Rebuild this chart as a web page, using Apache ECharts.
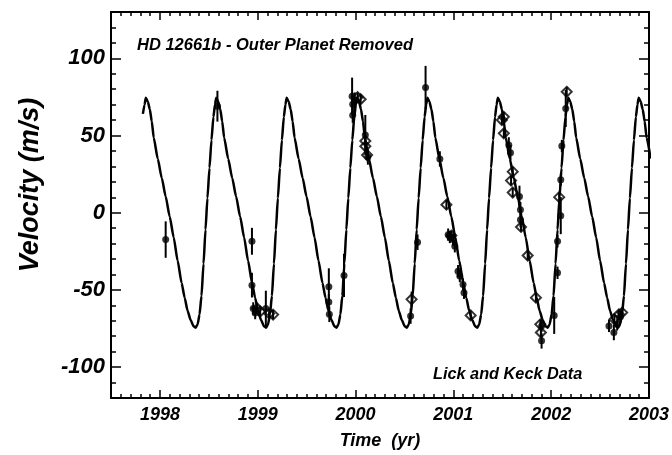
<!DOCTYPE html>
<html><head><meta charset="utf-8">
<script src="https://cdn.jsdelivr.net/npm/echarts@6/dist/echarts.min.js"></script>
<style>html,body{margin:0;padding:0;background:#fff}#c{width:672px;height:455px}</style>
</head><body><div id="c"></div>
<script>
// Model curve (cycle by cycle)
const curveTime = [
 1997.826,1997.843,
 1997.856,1997.876,1997.897,1997.917,1997.937,1997.978,1998.019,1998.059,1998.100,1998.141,1998.181,1998.222,1998.253,1998.283,1998.314,1998.344,1998.364,1998.385,1998.405,1998.425,1998.446,1998.466,1998.486,1998.507,1998.527,1998.547,1998.563,
 1998.576,1998.596,1998.617,1998.637,1998.657,1998.698,1998.739,1998.779,1998.820,1998.861,1998.901,1998.942,1998.973,1999.003,1999.034,1999.064,1999.084,1999.105,1999.125,1999.145,1999.166,1999.186,1999.206,1999.227,1999.247,1999.267,1999.283,
 1999.296,1999.316,1999.337,1999.357,1999.377,1999.418,1999.459,1999.499,1999.540,1999.581,1999.621,1999.662,1999.693,1999.723,1999.754,1999.784,1999.804,1999.825,1999.845,1999.865,1999.886,1999.906,1999.926,1999.947,1999.967,1999.987,2000.003,
 2000.015,2000.035,2000.056,2000.076,2000.096,2000.137,2000.178,2000.218,2000.259,2000.300,2000.340,2000.381,2000.412,2000.442,2000.473,2000.503,2000.523,2000.544,2000.564,2000.584,2000.605,2000.625,2000.645,2000.666,2000.686,2000.706,2000.722,
 2000.735,2000.755,2000.776,2000.796,2000.816,2000.857,2000.898,2000.938,2000.979,2001.020,2001.060,2001.101,2001.132,2001.162,2001.193,2001.223,2001.243,2001.264,2001.284,2001.304,2001.325,2001.345,2001.365,2001.386,2001.406,2001.426,2001.442,
 2001.455,2001.475,2001.496,2001.516,2001.536,2001.577,2001.618,2001.658,2001.699,2001.740,2001.780,2001.821,2001.852,2001.882,2001.913,2001.943,2001.963,2001.984,2002.004,2002.024,2002.045,2002.065,2002.085,2002.106,2002.126,2002.146,2002.162,
 2002.175,2002.195,2002.216,2002.236,2002.256,2002.297,2002.338,2002.378,2002.419,2002.460,2002.500,2002.541,2002.572,2002.602,2002.633,2002.663,2002.683,2002.704,2002.724,2002.744,2002.765,2002.785,2002.805,2002.826,2002.846,2002.866,2002.882,
 2002.895,2002.915,2002.936,2002.956,2002.976,2003.017
];
const curveVel = [
 64,70,
 74.5,72,67,59,48.5,35,22.5,10.5,-2.5,-16,-31,-45.5,-55,-63.5,-69.5,-73.5,-74.5,-72.5,-66,-54,-33,-11,9.5,29,47,62,70,
 74.5,72,67,59,48.5,35,22.5,10.5,-2.5,-16,-31,-45.5,-55,-63.5,-69.5,-73.5,-74.5,-72.5,-66,-54,-33,-11,9.5,29,47,62,70,
 74.5,72,67,59,48.5,35,22.5,10.5,-2.5,-16,-31,-45.5,-55,-63.5,-69.5,-73.5,-74.5,-72.5,-66,-54,-33,-11,9.5,29,47,62,70,
 74.5,72,67,59,48.5,35,22.5,10.5,-2.5,-16,-31,-45.5,-55,-63.5,-69.5,-73.5,-74.5,-72.5,-66,-54,-33,-11,9.5,29,47,62,70,
 74.5,72,67,59,48.5,35,22.5,10.5,-2.5,-16,-31,-45.5,-55,-63.5,-69.5,-73.5,-74.5,-72.5,-66,-54,-33,-11,9.5,29,47,62,70,
 74.5,72,67,59,48.5,35,22.5,10.5,-2.5,-16,-31,-45.5,-55,-63.5,-69.5,-73.5,-74.5,-72.5,-66,-54,-33,-11,9.5,29,47,62,70,
 74.5,72,67,59,48.5,35,22.5,10.5,-2.5,-16,-31,-45.5,-55,-63.5,-69.5,-73.5,-74.5,-72.5,-66,-54,-33,-11,9.5,29,47,62,70,
 74.5,72,67,59,48.5,35
];

// Lick data (filled circles)
const lickTime = [1998.059,1998.588,1998.941,1998.941,1998.954,1998.974,1999.083,1999.727,1999.727,1999.732,1999.882,1999.965,1999.971,1999.971,1999.991,2000.100,2000.126,2000.563,2000.634,2000.716,2000.862,2000.947,2000.964,2000.997,2001.015,2001.048,2001.066,2001.099,2001.109,2001.567,2001.584,2001.676,2001.686,2001.686,2001.902,2001.902,2002.031,2002.065,2002.065,2002.098,2002.098,2002.109,2002.149,2002.591,2002.641,2002.675,2002.708];
const lickVel = [-17.4,69,-18.5,-46.9,-62,-65,-62,-48,-57.9,-65.8,-40.6,75.5,70.3,63.2,72.9,50.3,36.1,-66.9,-19.1,81.1,34.8,-14.2,-15.7,-17.4,-21.7,-37.9,-41,-46.5,-51.8,43.9,38.9,10.5,1.9,-4.5,-73.3,-83,-66.5,-38.9,-18.5,21.3,-1.9,43.2,67.5,-73.3,-77.6,-72.3,-67.3];
const lickErr = [11.8,10,8.7,8,4,4,11.5,12,5,5,14,12,5,5,5,13,5,5,5,14,5,4,4,4,4,4,4,4,4,5,5,7,5,5,4,5,12,4,4,4,12,4,12,4,5,4,4];

// Keck data (open diamonds)
const keckTime = [1998.995,1999.025,1999.117,1999.157,2000.021,2000.052,2000.100,2000.100,2000.118,2000.573,2000.929,2000.980,2001.177,2001.496,2001.516,2001.516,2001.607,2001.590,2001.607,2001.692,2001.760,2001.844,2001.889,2001.895,2002.082,2002.159,2002.647,2002.692,2002.726];
const keckVel = [-62,-64,-65.2,-66,74.8,73.5,46.5,43,37.4,-56.1,5.2,-14.8,-66.5,60,62.1,51.4,26.6,20.8,13.1,-9.2,-27.7,-55,-72.3,-77.6,10.1,78.3,-69,-65.8,-64.7];
const keckErr = [3,3,3,3,3,3,3,3,3,5,3,3,3,3,3,3,3,3,3,3,3,3,3,3,3,3,3,3,3];

const yearTicks = [1998,1999,2000,2001,2002,2003];
const velTicks = [-100,-50,0,50,100];

const FONT = '"Liberation Sans", Arial, sans-serif';
const chart = echarts.init(document.getElementById('c'), null, {renderer:'canvas'});

const curve = curveTime.map((t,i)=>[t,curveVel[i]]);
const lick = lickTime.map((t,i)=>[t,lickVel[i],lickErr[i]]);
const keck = keckTime.map((t,i)=>[t,keckVel[i],keckErr[i]]);

function errBar(params, api){
  const x = api.value(0), v = api.value(1), e = api.value(2);
  const a = api.coord([x, v+e]), b = api.coord([x, v-e]);
  return {type:'line', shape:{x1:a[0],y1:a[1],x2:b[0],y2:b[1]}, style:{stroke:'#000', lineWidth:2}};
}

const XMIN=1997.5, XMAX=2003, YMIN=-120, YMAX=130;
const tickStyle = {color:'#000', width:1.5};
const lineOn = {onZero:false, lineStyle:{color:'#000', width:2}};
const lineOff = {show:false, onZero:false};
chart.setOption({
  animation:false,
  backgroundColor:'#fff',
  grid:{left:111, right:20, top:12, bottom:57, containLabel:false},
  xAxis:[
    {type:'value', position:'bottom', min:XMIN, max:XMAX, interval:0.1,
     axisLine:lineOn, axisTick:{inside:true, length:4, lineStyle:tickStyle},
     axisLabel:{show:false}, splitLine:{show:false}},
    {type:'value', position:'bottom', min:XMIN, max:XMAX,
     axisLine:lineOff,
     axisTick:{inside:true, length:8, customValues:yearTicks, lineStyle:tickStyle},
     axisLabel:{customValues:yearTicks, formatter:v=>String(v), color:'#000', fontSize:18, fontWeight:'bold', fontStyle:'italic', fontFamily:FONT, margin:8},
     splitLine:{show:false},
     name:'Time  (yr)', nameLocation:'middle', nameGap:34,
     nameTextStyle:{color:'#000', fontSize:18, fontWeight:'bold', fontStyle:'italic', fontFamily:FONT}},
    {type:'value', position:'top', min:XMIN, max:XMAX, interval:0.1,
     axisLine:lineOn, axisTick:{inside:true, length:4, lineStyle:tickStyle},
     axisLabel:{show:false}, splitLine:{show:false}},
    {type:'value', position:'top', min:XMIN, max:XMAX,
     axisLine:lineOff, axisTick:{inside:true, length:8, customValues:yearTicks, lineStyle:tickStyle},
     axisLabel:{show:false}, splitLine:{show:false}}
  ],
  yAxis:[
    {type:'value', position:'left', min:YMIN, max:YMAX, interval:10,
     axisLine:lineOn, axisTick:{inside:true, length:5, lineStyle:tickStyle},
     axisLabel:{show:false}, splitLine:{show:false}},
    {type:'value', position:'left', min:YMIN, max:YMAX,
     axisLine:lineOff, axisTick:{inside:true, length:10, customValues:velTicks, lineStyle:tickStyle},
     axisLabel:{customValues:velTicks, formatter:v=>String(v), color:'#000', fontSize:22, fontWeight:'bold', fontStyle:'italic', fontFamily:FONT, margin:6},
     splitLine:{show:false}},
    {type:'value', position:'right', min:YMIN, max:YMAX, interval:10,
     axisLine:lineOn, axisTick:{inside:true, length:5, lineStyle:tickStyle},
     axisLabel:{show:false}, splitLine:{show:false}},
    {type:'value', position:'right', min:YMIN, max:YMAX,
     axisLine:lineOff, axisTick:{inside:true, length:10, customValues:velTicks, lineStyle:tickStyle},
     axisLabel:{show:false}, splitLine:{show:false}}
  ],
  graphic:[
    {type:'text', x:31, y:185, rotation:Math.PI/2,
     style:{text:'Velocity (m/s)', fill:'#000', font:'italic bold 27px '+FONT, textAlign:'center', textVerticalAlign:'middle'}},
    {type:'text', x:137, y:45,
     style:{text:'HD 12661b - Outer Planet Removed', fill:'#000', font:'italic bold 16.5px '+FONT, textAlign:'left', textVerticalAlign:'middle'}},
    {type:'text', x:433, y:375,
     style:{text:'Lick and Keck Data', fill:'#000', font:'italic bold 16.3px '+FONT, textAlign:'left', textVerticalAlign:'middle'}}
  ],
  series:[
    {type:'line', xAxisIndex:0, yAxisIndex:0, data:curve, showSymbol:false, smooth:0.2, smoothMonotone:'x',
     lineStyle:{color:'#000', width:2.5}, clip:true, z:2},
    {type:'custom', xAxisIndex:0, yAxisIndex:0, data:lick, renderItem:errBar, z:3},
    {type:'custom', xAxisIndex:0, yAxisIndex:0, data:keck, renderItem:errBar, z:3},
    {type:'scatter', xAxisIndex:0, yAxisIndex:0, data:lick, symbol:'circle', symbolSize:7,
     itemStyle:{color:'#000'}, z:4},
    {type:'scatter', xAxisIndex:0, yAxisIndex:0, data:keck, symbol:'diamond', symbolSize:10,
     itemStyle:{color:'rgba(0,0,0,0)', borderColor:'#000', borderWidth:2}, z:5}
  ]
});
</script></body></html>
